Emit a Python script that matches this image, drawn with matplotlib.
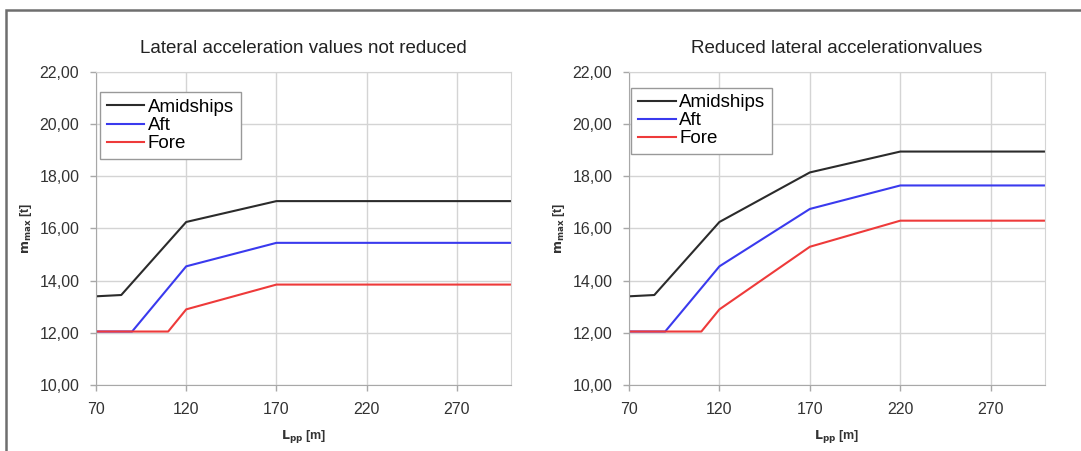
import matplotlib
matplotlib.use("Agg")
import matplotlib.pyplot as plt
from matplotlib.patches import Rectangle
from matplotlib.ticker import FuncFormatter

plt.rcParams['font.family'] = ['Liberation Sans', 'DejaVu Sans']

# Left chart: lateral acceleration values not reduced
left_amid_x = [70, 84, 120, 170, 300]
left_amid_y = [13.40, 13.45, 16.25, 17.05, 17.05]
left_aft_x = [70, 90, 120, 170, 300]
left_aft_y = [12.05, 12.05, 14.55, 15.45, 15.45]
left_fore_x = [70, 110, 120, 170, 300]
left_fore_y = [12.05, 12.05, 12.90, 13.85, 13.85]

# Right chart: reduced lateral acceleration values
right_amid_x = [70, 84, 120, 170, 220, 300]
right_amid_y = [13.40, 13.45, 16.25, 18.15, 18.95, 18.95]
right_aft_x = [70, 90, 120, 170, 220, 300]
right_aft_y = [12.05, 12.05, 14.55, 16.75, 17.65, 17.65]
right_fore_x = [70, 110, 120, 170, 220, 300]
right_fore_y = [12.05, 12.05, 12.90, 15.30, 16.30, 16.30]

series_names = ["Amidships", "Aft", "Fore"]
titles = ["Lateral acceleration values not reduced", "Reduced lateral accelerationvalues"]
x_ticks = [70, 120, 170, 220, 270]
y_ticks = [10, 12, 14, 16, 18, 20, 22]

colors = ['#2b2b2b', '#3a3aee', '#ee3a3a']

fig = plt.figure(figsize=(10.81, 4.51), dpi=100)
fig.patch.set_facecolor('white')

# outer frame (top and left visible)
fig.add_artist(Rectangle((6/1081, -0.05), 1.2, 1 - 10/451 + 0.05, transform=fig.transFigure,
                         fill=False, edgecolor='#6e6e6e', linewidth=1.8))

axes_pos = [[96/1081, 1 - 385/451, 415/1081, 313/451],
            [629/1081, 1 - 385/451, 416/1081, 313/451]]
data = [
    [(left_amid_x, left_amid_y), (left_aft_x, left_aft_y), (left_fore_x, left_fore_y)],
    [(right_amid_x, right_amid_y), (right_aft_x, right_aft_y), (right_fore_x, right_fore_y)],
]
legend_anchor = [(0.01, 0.935), (0.006, 0.95)]

fmt = FuncFormatter(lambda v, p: f"{v:.2f}".replace('.', ','))

for i in range(2):
    ax = fig.add_axes(axes_pos[i])
    for (xs, ys), name, c in zip(data[i], series_names, colors):
        ax.plot(xs, ys, color=c, linewidth=1.5, label=name)
    ax.set_xlim(70, 300)
    ax.set_ylim(10, 22)
    ax.set_xticks(x_ticks)
    ax.set_yticks(y_ticks)
    ax.yaxis.set_major_formatter(fmt)
    ax.grid(True, color='#d4d4d4', linewidth=1.0)
    ax.set_axisbelow(True)
    for s in ['top', 'right']:
        ax.spines[s].set_color('#d4d4d4')
    for s in ['left', 'bottom']:
        ax.spines[s].set_color('#a8a8a8')
    ax.tick_params(axis='both', colors='#a8a8a8', labelcolor='#333333', labelsize=11.5,
                   length=4, width=1)
    ax.tick_params(axis='y', pad=8)
    ax.tick_params(axis='x', pad=8)
    ax.set_title(titles[i], fontsize=13.5, color='#222222', pad=14)
    ax.set_xlabel(r"$\mathbf{L_{pp}}$ [m]", fontsize=9, fontweight='bold', color='#333333', labelpad=8)
    ax.set_ylabel(r"$\mathbf{m_{max}}$ [t]", fontsize=9, fontweight='bold', color='#333333', labelpad=4)
    leg = ax.legend(loc='upper left', bbox_to_anchor=legend_anchor[i], fontsize=13.5,
                    frameon=True, fancybox=False, framealpha=1, edgecolor='#999999',
                    labelspacing=0.05, handlelength=2.0, handletextpad=0.2,
                    borderpad=0.35, borderaxespad=0.0)
    leg.get_frame().set_linewidth(1.0)

fig.savefig("out.png", dpi=100, facecolor='white')
